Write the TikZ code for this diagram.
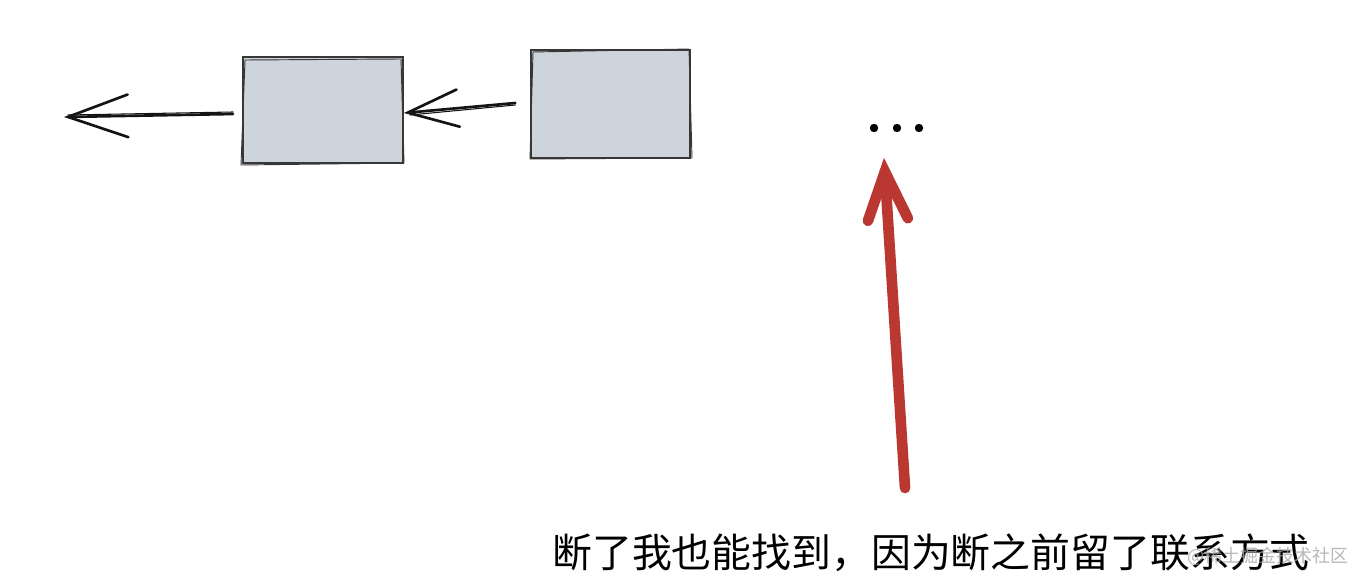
\documentclass[tikz,border=0pt]{standalone}
\usepackage{fontspec}
\newfontfamily\cjk{Noto Sans CJK SC}
\usetikzlibrary{arrows.meta}
\definecolor{boxfill}{RGB}{206,212,220}
\definecolor{boxline}{RGB}{55,55,55}
\definecolor{redarrow}{RGB}{187,56,50}
\definecolor{inkblack}{RGB}{20,20,20}
\tikzset{
  sketchbox/.style={draw=boxline, fill=boxfill, line width=1.3pt, minimum width=120pt, minimum height=80pt, inner sep=0pt},
  sketchline/.style={draw=boxline, line width=0.7pt},
  blackarrow/.style={draw=inkblack, line width=2pt, line cap=round},
  reddot/.style={circle, fill=black, inner sep=0pt, minimum size=6.3pt},
  bigred/.style={draw=redarrow, line width=8pt, line cap=round,
    -{Straight Barb[length=36pt, width=30pt, line cap=round]}},
}
\begin{document}
\begin{tikzpicture}[x=0.75pt,y=-0.75pt]
\useasboundingbox (0,0) rectangle (1366,588);
% boxes
\node[sketchbox] (b1) at (323,110) {};
\node[sketchbox, minimum height=81pt, minimum width=119pt] (b2) at (610.5,104) {};
\draw[sketchline] (245,60) -- (401,59) -- (404,163) -- (241,165) -- cycle;
\draw[sketchline] (533,52) -- (689,49) -- (692,158) -- (530,159) -- cycle;
% black arrows
\coordinate (t1) at (64,117);
\draw[blackarrow, -{Straight Barb[length=45pt, width=32pt, line cap=round]}] (b1.west |- 0,114) ++(-9,0) coordinate (s1) -- (t1);
\draw[blackarrow, line width=0.8pt] (s1) ++(0,-2) -- (68,115);
\draw[blackarrow, -{Straight Barb[length=38pt, width=28pt, line cap=round]}] (b2.west |- 0,103) ++(-15,0) coordinate (s2) -- (b1.east |- 0,113);
\draw[blackarrow, line width=0.8pt] (s2) ++(0,2) -- (410,115);
% dots
\node[reddot] (d1) at (874,128) {};
\node[reddot] (d2) at (897,128) {};
\node[reddot] (d3) at (919,128) {};
% red arrow
\coordinate (rs) at (905,488);
\draw[bigred] (rs) -- ([yshift=-19pt]d2.south -| 884,0);
% text
\node[inner sep=0pt] (txt) at (931,553) {\cjk\fontsize{29.9pt}{32pt}\selectfont 断了我也能找到，因为断之前留了联系方式};
\node[inner sep=0pt, text=gray!70, opacity=0.8] (wm) at (1268,556) {\cjk\fontsize{13.5pt}{15pt}\selectfont @稀土掘金技术社区};
\end{tikzpicture}
\end{document}
